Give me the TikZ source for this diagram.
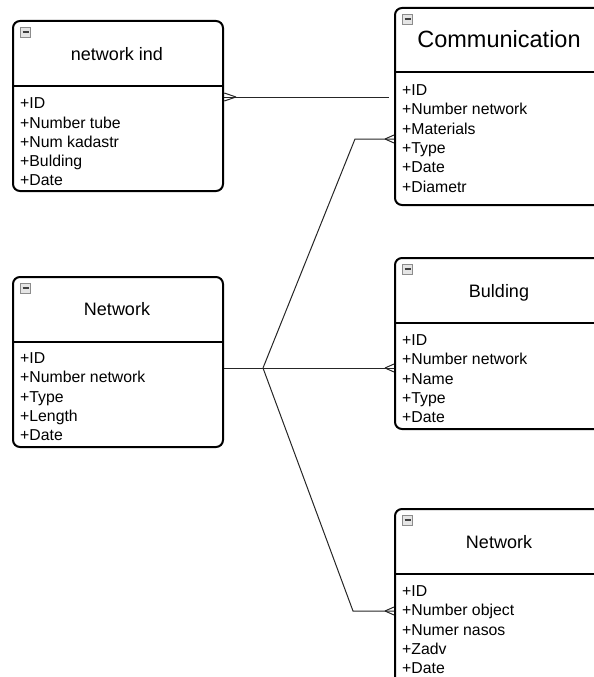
\documentclass[tikz,border=0pt]{standalone}
\usepackage{fontspec}
\setmainfont{Liberation Sans}
\begin{document}
\begin{tikzpicture}[x=1pt,y=-1pt,
  entity/.style={draw, line width=2pt, rounded corners=7pt,
    minimum width=210pt, anchor=north west, inner sep=0pt},
  etitle/.style={font=\fontsize{18}{20}\selectfont, anchor=base, inner sep=0pt},
  attrs/.style={font=\fontsize{15.8}{19.3}\selectfont, align=left,
    anchor=north west, inner sep=0pt},
  sep/.style={line width=2pt},
  collapse/.style={draw=black!45, fill=black!10, line width=0.8pt,
    minimum size=10pt, inner sep=0pt,
    path picture={\draw[line width=1.3pt, black!75]
      ([xshift=2pt]path picture bounding box.west) --
      ([xshift=-2pt]path picture bounding box.east);}},
  conn/.style={line width=1pt, draw=black!85},
  crowfoot/.pic={\draw[conn] (0,0) -- (9,-4) (0,0) -- (9,4);}
]
\useasboundingbox (0,0) rectangle (594,677);
\clip (0,0) rectangle (594,677);

% ---- network ind ----
\node[entity, minimum height=170pt] (A) at (12,20) {};
\node[collapse] (Aicon) at (25.5,32) {};
\node[etitle] (Atitle) at (117,60) {network ind};
\draw[sep] (A.west |- 0,86) -- (A.east |- 0,86);
\node[attrs] (Aattr) at (20,97.7) {+ID\\+Number tube\\+Num kadastr\\+Bulding\\+Date};

% ---- Communication ----
\node[entity, minimum height=197pt] (B) at (394,7) {};
\node[collapse] (Bicon) at (407.5,19) {};
\node[etitle, font=\fontsize{23.5}{26}\selectfont] (Btitle) at (499,48) {Communication};
\draw[sep] (B.west |- 0,72) -- (B.east |- 0,72);
\node[attrs] (Battr) at (402,84.5) {+ID\\+Number network\\+Materials\\+Type\\+Date\\+Diametr};

% ---- Network (left) ----
\node[entity, minimum height=170pt] (C) at (12,276) {};
\node[collapse] (Cicon) at (25.5,288) {};
\node[etitle] (Ctitle) at (117,315) {Network};
\draw[sep] (C.west |- 0,342) -- (C.east |- 0,342);
\node[attrs] (Cattr) at (20,352.5) {+ID\\+Number network\\+Type\\+Length\\+Date};

% ---- Bulding ----
\node[entity, minimum height=171pt] (D) at (394,257) {};
\node[collapse] (Dicon) at (407.5,269) {};
\node[etitle] (Dtitle) at (499,297) {Bulding};
\draw[sep] (D.west |- 0,323) -- (D.east |- 0,323);
\node[attrs] (Dattr) at (402,334.5) {+ID\\+Number network\\+Name\\+Type\\+Date};

% ---- Network (bottom) ----
\node[entity, minimum height=182pt] (E) at (394,508) {};
\node[collapse] (Eicon) at (407.5,520) {};
\node[etitle] (Etitle) at (499,548) {Network};
\draw[sep] (E.west |- 0,574) -- (E.east |- 0,574);
\node[attrs] (Eattr) at (402,585.5) {+ID\\+Number object\\+Numer nasos\\+Zadv\\+Date};

% ---- relations ----
\coordinate (ABend) at (389,97);
\draw[conn] (A.east |- ABend) -- (ABend);
\pic[xscale=-1.3] at ([xshift=12pt]A.east |- ABend) {crowfoot};

\coordinate (J) at (263,368);
\draw[conn] (C.east |- J) -- (J);

\coordinate (Bk) at (355,139);
\draw[conn] (J) -- (Bk) -- (B.west |- Bk);
\pic at ([xshift=-9pt]B.west |- Bk) {crowfoot};

\draw[conn] (J) -- (D.west |- J);
\pic at ([xshift=-9pt]D.west |- J) {crowfoot};

\coordinate (Ek) at (353,611);
\draw[conn] (J) -- (Ek) -- (E.west |- Ek);
\pic at ([xshift=-9pt]E.west |- Ek) {crowfoot};
\end{tikzpicture}
\end{document}
